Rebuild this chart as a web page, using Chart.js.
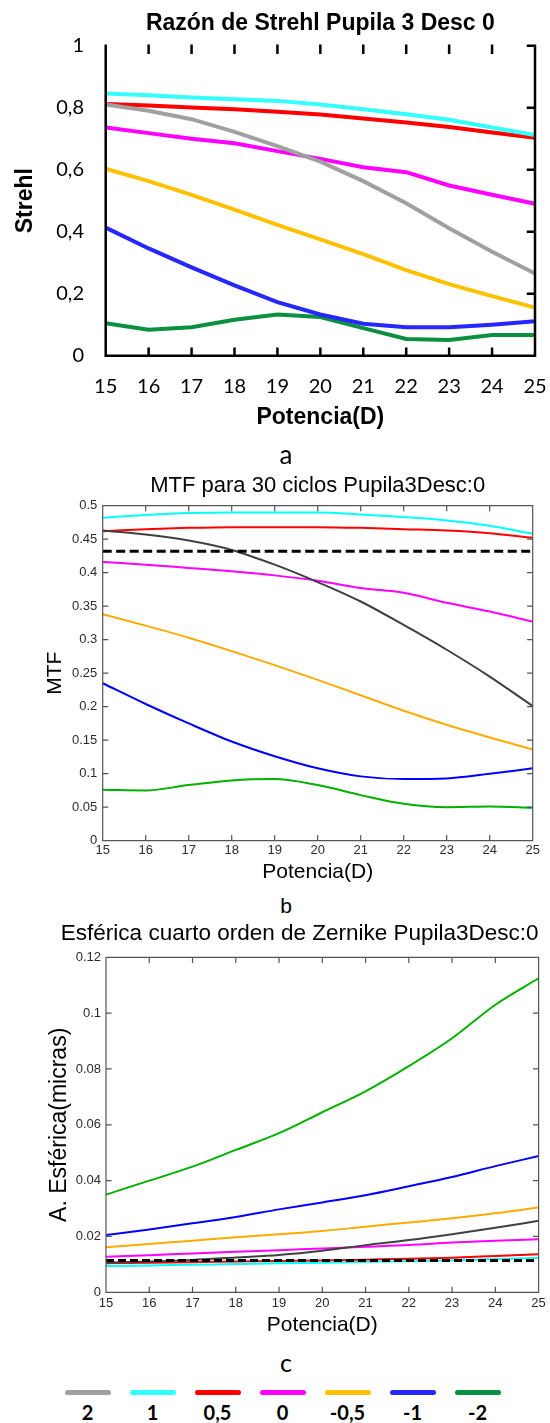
<!DOCTYPE html>
<html lang="es">
<head>
<meta charset="utf-8">
<title>Strehl, MTF y esférica - Pupila 3 Desc 0</title>
<script src="https://cdn.jsdelivr.net/npm/chart.js@4/dist/chart.umd.min.js"></script>
<style>
  html, body { margin: 0; padding: 0; background: #fff; }
  body { position: relative; width: 550px; height: 1423px; overflow: hidden; }
  canvas { position: absolute; left: 0; }
  .letra { position: absolute; width: 40px; margin-left: -20px; text-align: center;
           font-family: Lato, sans-serif; line-height: 1; color: #000; }
  #leyenda { position: absolute; left: 55px; top: 1390px; display: flex; }
  #leyenda div { width: 65px; text-align: center; font: bold 20px Lato, sans-serif; }
  #leyenda span { display: block; width: 46px; height: 5px; margin: 0 auto 5px; border-radius: 3px; }
</style>
</head>
<body>
<canvas id="strehl" width="550" height="440" style="top:0"></canvas>
<div class="letra" style="left:286px; top:441px; font-size:26px">a</div>
<canvas id="mtf" width="550" height="420" style="top:470px"></canvas>
<div class="letra" style="left:286px; top:895px; font-size:21px; font-family:'Liberation Sans', sans-serif">b</div>
<canvas id="esferica" width="550" height="430" style="top:912px"></canvas>
<div class="letra" style="left:286px; top:1350px; font-size:25px">c</div>
<div id="leyenda"></div>
<script>
const potencia = [15, 16, 17, 18, 19, 20, 21, 22, 23, 24, 25];
const desenfoque = ['2', '1', '0,5', '0', '-0,5', '-1', '-2'];

// a: razón de Strehl
const strehlD2 = [0.81, 0.79, 0.763, 0.722, 0.676, 0.626, 0.563, 0.492, 0.411, 0.335, 0.265];
const strehlD1 = [0.846, 0.84, 0.833, 0.827, 0.822, 0.81, 0.795, 0.779, 0.761, 0.736, 0.712];
const strehlD05 = [0.812, 0.807, 0.801, 0.795, 0.787, 0.778, 0.765, 0.752, 0.738, 0.72, 0.703];
const strehlD0 = [0.736, 0.718, 0.7, 0.685, 0.66, 0.635, 0.608, 0.592, 0.549, 0.519, 0.49];
const strehlDm05 = [0.603, 0.563, 0.519, 0.471, 0.422, 0.375, 0.328, 0.276, 0.231, 0.192, 0.155];
const strehlDm1 = [0.413, 0.346, 0.285, 0.227, 0.173, 0.133, 0.103, 0.092, 0.092, 0.1, 0.111];
const strehlDm2 = [0.105, 0.084, 0.092, 0.116, 0.133, 0.125, 0.089, 0.054, 0.051, 0.067, 0.067];

// b: MTF para 30 ciclos
const mtfD2 = [0.463, 0.457, 0.448, 0.434, 0.412, 0.386, 0.357, 0.322, 0.285, 0.245, 0.201];
const mtfD1 = [0.482, 0.486, 0.489, 0.49, 0.49, 0.49, 0.487, 0.483, 0.478, 0.47, 0.458];
const mtfD05 = [0.462, 0.465, 0.467, 0.468, 0.468, 0.468, 0.467, 0.465, 0.463, 0.459, 0.452];
const mtfD0 = [0.416, 0.412, 0.407, 0.402, 0.396, 0.388, 0.377, 0.37, 0.355, 0.342, 0.327];
const mtfDm05 = [0.338, 0.321, 0.303, 0.283, 0.262, 0.24, 0.217, 0.194, 0.173, 0.154, 0.136];
const mtfDm1 = [0.235, 0.204, 0.175, 0.148, 0.126, 0.108, 0.096, 0.092, 0.093, 0.1, 0.108];
const mtfDm2 = [0.076, 0.075, 0.083, 0.09, 0.092, 0.083, 0.068, 0.055, 0.05, 0.051, 0.049];
const mtfUmbral = 0.432;

// c: esférica de cuarto orden (micras)
const esfD2 = [0.0106, 0.011, 0.0116, 0.0125, 0.0134, 0.0149, 0.0169, 0.0187, 0.0208, 0.0231, 0.0256];
const esfD1 = [0.0094, 0.0096, 0.0099, 0.0101, 0.0104, 0.0106, 0.0109, 0.0112, 0.0115, 0.0119, 0.0123];
const esfD05 = [0.0104, 0.0106, 0.0108, 0.011, 0.0112, 0.0114, 0.0117, 0.012, 0.0124, 0.013, 0.0136];
const esfD0 = [0.0127, 0.0133, 0.0139, 0.0145, 0.0151, 0.0157, 0.0163, 0.0169, 0.0178, 0.0185, 0.019];
const esfDm05 = [0.0161, 0.0173, 0.0185, 0.0197, 0.0208, 0.022, 0.0235, 0.025, 0.0265, 0.0283, 0.0304];
const esfDm1 = [0.0205, 0.0225, 0.0247, 0.027, 0.0297, 0.0322, 0.0348, 0.038, 0.0413, 0.0452, 0.0488];
const esfDm2 = [0.035, 0.04, 0.045, 0.051, 0.057, 0.0645, 0.072, 0.081, 0.091, 0.103, 0.1125];
const esfUmbral = 0.0114;

const coloresA = ['#a0a0a0', '#33ffff', '#ff0000', '#ff00ff', '#ffc000', '#2626ff', '#0a9040'];
const coloresBC = ['#404040', '#00ffff', '#ff0000', '#ff00ff', '#ffaa00', '#0000ff', '#00b000'];

const SANS = "'Liberation Sans', Arial, sans-serif";
const LATO = 'Lato, sans-serif';

Chart.defaults.color = '#000';

// box lines and inward tick marks, drawn on the chart area
const marco = {
  id: 'marco',
  afterDatasetsDraw(chart, args, opts) {
    const { ctx, chartArea, scales } = chart;
    const { left, right, top, bottom } = chartArea;
    const len = opts.tickLength;
    ctx.save();
    ctx.strokeStyle = opts.color;
    ctx.lineWidth = opts.width;
    ctx.lineCap = 'square';
    ctx.beginPath();
    if (opts.sides.includes('top')) { ctx.moveTo(left, top); ctx.lineTo(right, top); }
    if (opts.sides.includes('right')) { ctx.moveTo(right, top); ctx.lineTo(right, bottom); }
    if (opts.sides.includes('bottom')) { ctx.moveTo(left, bottom); ctx.lineTo(right, bottom); }
    if (opts.sides.includes('left')) { ctx.moveTo(left, top); ctx.lineTo(left, bottom); }
    scales.x.ticks.forEach((t, i) => {
      const px = scales.x.getPixelForTick(i);
      if (opts.ticks.includes('bottom')) { ctx.moveTo(px, bottom); ctx.lineTo(px, bottom - len); }
      if (opts.ticks.includes('top')) { ctx.moveTo(px, top); ctx.lineTo(px, top + len); }
    });
    scales.y.ticks.forEach((t, i) => {
      const py = scales.y.getPixelForTick(i);
      if (opts.ticks.includes('right')) { ctx.moveTo(right, py); ctx.lineTo(right - len, py); }
      if (opts.ticks.includes('left')) { ctx.moveTo(left, py); ctx.lineTo(left + len, py); }
    });
    ctx.stroke();
    ctx.restore();
  },
};

function series(rows, colors, width, smooth) {
  return rows.map((data, i) => ({
    label: desenfoque[i],
    data,
    borderColor: colors[i],
    borderWidth: width,
    pointRadius: 0,
    tension: 0,
    cubicInterpolationMode: smooth ? 'monotone' : 'default',
  }));
}

function umbral(value, dash) {
  return {
    label: 'umbral',
    data: potencia.map(() => value),
    borderColor: '#000',
    borderWidth: 3,
    borderDash: dash,
    pointRadius: 0,
  };
}

/**
 * @param {String} id canvas id
 * @param {Object} c layout and text settings of one panel
 */
function grafica(id, c) {
  return new Chart(document.getElementById(id), {
    type: 'line',
    data: { labels: potencia, datasets: c.datasets },
    options: {
      responsive: false,
      animation: false,
      events: [],
      layout: { padding: { left: 0, right: c.right, top: 0, bottom: 0 } },
      plugins: {
        legend: { display: false },
        tooltip: { enabled: false },
        title: {
          display: true,
          text: c.title,
          font: c.titleFont,
          padding: c.titlePadding,
          align: c.titleAlign || 'center',
          fullSize: !!c.titleFull,
          color: '#000',
        },
        marco: c.marco,
      },
      scales: {
        x: {
          grid: { display: false, drawTicks: false },
          border: { display: false },
          ticks: { font: c.tickFont, color: c.tickColor, padding: c.xTickPad, autoSkip: false, maxRotation: 0 },
          title: { display: true, text: 'Potencia(D)', font: c.axisFont, padding: { top: 0, bottom: c.xTitlePad }, color: '#000' },
          afterFit(s) { s.height = c.xHeight; s.paddingLeft = 0; s.paddingRight = 0; },
        },
        y: {
          min: c.yMin,
          max: c.yMax,
          grid: { display: false, drawTicks: false },
          border: { display: false },
          ticks: { stepSize: c.yStep, font: c.tickFont, color: c.tickColor, padding: c.yTickPad, callback: c.yFormat },
          title: { display: true, text: c.yTitle, font: c.yTitleFont || c.axisFont, padding: { top: c.yTitlePad, bottom: 0 }, color: '#000' },
          afterFit(s) { s.width = c.yWidth; s.paddingTop = 0; s.paddingBottom = 0; },
        },
      },
    },
    plugins: [marco],
  });
}

grafica('strehl', {
  datasets: series([strehlD2, strehlD1, strehlD05, strehlD0, strehlDm05, strehlDm1, strehlDm2], coloresA, 4, false),
  title: 'Razón de Strehl Pupila 3 Desc 0',
  titleFont: { family: SANS, size: 23, weight: 'bold' },
  titlePadding: { top: 10, bottom: 8.1 },
  right: 15,
  tickFont: { family: LATO, size: 20 },
  tickColor: '#000',
  axisFont: { family: SANS, size: 23, weight: 'bold' },
  xTickPad: 19,
  xTitlePad: 8.9,
  xHeight: 84.3,
  yMin: 0, yMax: 1, yStep: 0.2,
  yFormat: (v) => String(+v.toFixed(2)).replace('.', ','),
  yTickPad: 21.7,
  yTitle: 'Strehl',
  yTitlePad: 11.7,
  yWidth: 105.7,
  marco: { color: '#000', width: 2.5, tickLength: 7, sides: ['left', 'bottom', 'right'], ticks: ['bottom', 'top', 'right'] },
});

grafica('mtf', {
  datasets: [umbral(mtfUmbral, [9, 4.5])].concat(
    series([mtfD2, mtfD1, mtfD05, mtfD0, mtfDm05, mtfDm1, mtfDm2], coloresBC, 2, true)),
  title: 'MTF para 30 ciclos Pupila3Desc:0',
  titleFont: { family: SANS, size: 22, weight: 'normal' },
  titlePadding: { top: 2.8, bottom: 6.5 },
  right: 17.3,
  tickFont: { family: SANS, size: 13 },
  tickColor: '#2b2b2b',
  axisFont: { family: SANS, size: 21, weight: 'normal' },
  xTickPad: 2.3,
  xTitlePad: 4.7,
  xHeight: 49.3,
  yMin: 0, yMax: 0.5, yStep: 0.05,
  yFormat: (v) => String(+v.toFixed(3)),
  yTickPad: 5.4,
  yTitle: 'MTF',
  yTitlePad: 42.4,
  yWidth: 102.7,
  marco: { color: '#555', width: 1.2, tickLength: 5, sides: ['top', 'right', 'bottom', 'left'], ticks: ['bottom', 'top', 'right', 'left'] },
});

grafica('esferica', {
  datasets: [umbral(esfUmbral, [8, 4])].concat(
    series([esfD2, esfD1, esfD05, esfD0, esfDm05, esfDm1, esfDm2], coloresBC, 2, true)),
  title: 'Esférica cuarto orden de Zernike Pupila3Desc:0',
  titleFont: { family: SANS, size: 22.5, weight: 'normal' },
  titlePadding: { top: 7.8, bottom: 10.5 },
  titleAlign: 'end',
  titleFull: true,
  right: 11.4,
  tickFont: { family: SANS, size: 13 },
  tickColor: '#2b2b2b',
  axisFont: { family: SANS, size: 21, weight: 'normal' },
  xTickPad: 3.2,
  xTitlePad: 4.4,
  xHeight: 49.7,
  yMin: 0, yMax: 0.12, yStep: 0.02,
  yFormat: (v) => String(+v.toFixed(3)),
  yTickPad: 5,
  yTitle: 'A. Esférica(micras)',
  yTitleFont: { family: SANS, size: 23, weight: 'normal' },
  yTitlePad: 46.2,
  yWidth: 106,
  marco: { color: '#555', width: 1.2, tickLength: 5, sides: ['top', 'right', 'bottom', 'left'], ticks: ['bottom', 'top', 'right', 'left'] },
});

// shared legend under the three panels
const leyenda = document.getElementById('leyenda');
desenfoque.forEach((name, i) => {
  const item = document.createElement('div');
  const line = document.createElement('span');
  line.style.background = coloresA[i];
  item.appendChild(line);
  item.appendChild(document.createTextNode(name));
  leyenda.appendChild(item);
});
</script>
</body>
</html>
